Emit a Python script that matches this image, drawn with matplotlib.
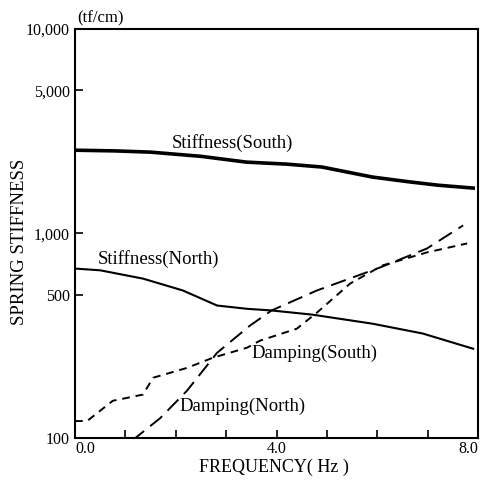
import matplotlib
matplotlib.use("Agg")
import matplotlib.pyplot as plt
from matplotlib.ticker import FixedLocator, FixedFormatter, NullLocator

plt.rcParams['font.family'] = ['Liberation Serif', 'DejaVu Serif']

# curves (frequency Hz, stiffness tf/cm)
f_stiff_s = [0.0, 0.8, 1.5, 2.5, 3.4, 4.2, 4.9, 5.9, 6.6, 7.2, 7.9]
k_stiff_s = [2550, 2530, 2495, 2380, 2230, 2180, 2110, 1885, 1790, 1720, 1665]

f_stiff_n = [0.0, 0.5, 1.35, 2.14, 2.82, 3.41, 3.9, 4.7, 5.9, 6.9, 7.9]
k_stiff_n = [673, 660, 601, 526, 444, 428, 420, 401, 362, 324, 273]

f_damp_s = [0.0, 0.24, 0.75, 1.35, 1.55, 2.22, 2.74, 3.41, 3.67, 4.4, 4.8, 5.46, 6.1, 6.98, 7.78]
c_damp_s = [121, 121, 152, 163, 197, 220, 247, 276, 299, 342, 410, 569, 697, 807, 893]

f_damp_n = [1.13, 1.69, 2.22, 2.82, 3.47, 3.9, 4.8, 6.05, 6.98, 7.7]
c_damp_n = [97, 125, 170, 261, 354, 420, 526, 681, 843, 1094]

y_ticks = [100, 500, 1000, 5000, 10000]
y_labels = ['100', '500', '1,000', '5,000', '10,000']

fig = plt.figure(figsize=(4.9, 4.82), dpi=100)
ax = fig.add_axes([0.153, 0.0913, 0.823, 0.849])

ax.plot(f_stiff_s, k_stiff_s, color='black', lw=2.6)
ax.plot(f_stiff_n, k_stiff_n, color='black', lw=1.5)
ax.plot(f_damp_s, c_damp_s, color='black', lw=1.4, dashes=(4, 3))
ax.plot(f_damp_n, c_damp_n, color='black', lw=1.4, dashes=(8, 4))

ax.set_yscale('log')
ax.set_xlim(0, 8)
ax.set_ylim(100, 10000)
ax.yaxis.set_major_locator(FixedLocator(y_ticks))
ax.yaxis.set_major_formatter(FixedFormatter(y_labels))
ax.yaxis.set_minor_locator(NullLocator())
ax.set_xticks([0, 4, 8])
ax.set_xticklabels(['0.0', '4.0', '8.0'])
ax.set_xticks([1, 2, 3, 5, 6, 7], minor=True)
ax.tick_params(direction='in', length=6, width=1.2, labelsize=11.5)
ax.tick_params(which='minor', direction='in', length=6, width=1.2)
ax.tick_params(axis='x', pad=2)
xl = ax.get_xticklabels()
xl[0].set_ha('left')
xl[-1].set_ha('right')
for s in ax.spines.values():
    s.set_linewidth(1.5)

fig.text(20 / 490, 1 - 242 / 482, 'SPRING STIFFNESS', fontsize=13.5,
         rotation=90, ha='center', va='center')
fig.text(274 / 490, 1 - 467 / 482, 'FREQUENCY( Hz )', fontsize=13,
         ha='center', va='center')
ax.text(0.05, 10000 * 1.03, '(tf/cm)', fontsize=12, va='bottom')

ax.text(1.92, 2760, 'Stiffness(South)', fontsize=13.5, va='center')
ax.text(0.46, 747, 'Stiffness(North)', fontsize=13.5, va='center')
ax.text(3.51, 258, 'Damping(South)', fontsize=13.5, va='center')
ax.text(2.08, 142, 'Damping(North)', fontsize=13.5, va='center')

fig.savefig('out.png', dpi=100)
